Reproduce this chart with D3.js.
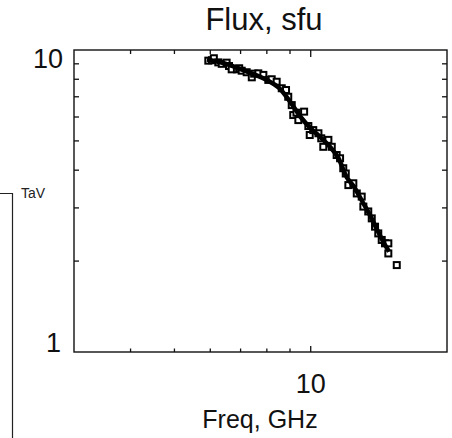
<!DOCTYPE html>
<html>
<head>
    <meta charset="utf-8">
    <title>Flux, sfu</title>
    <script src="https://d3js.org/d3.v7.min.js"></script>
    <style>
        body {
            margin: 0;
            background-color: #ffffff;
            font-family: "Liberation Sans", Arial, sans-serif;
        }
        .frame line, .frame rect {
            stroke: #111;
        }
    </style>
</head>
<body>
    <div id="chart"></div>
    <script>

        // measured points (freq GHz, flux sfu)
        var freq = [5.94, 6.05, 6.11, 6.25, 6.36, 6.52, 6.6, 6.69, 6.87, 6.95, 7.04, 7.22, 7.41, 7.5, 7.66, 7.86,
            8.06, 8.2, 8.41, 8.63, 8.82, 8.92, 9.08, 9.15, 9.3, 9.39, 9.67, 9.88, 9.95, 10.13, 10.4, 10.55, 10.66,
            10.94, 11.13, 11.41, 11.61, 11.8, 11.95, 12.11, 12.42, 12.64, 12.96, 13.07, 13.4, 13.64, 13.87,
            14.1, 14.35, 14.59, 14.84, 14.84, 15.49];
        var flux = [9.22, 9.25, 9.39, 9.1, 9.0, 9.08, 8.85, 8.63, 8.63, 8.7, 8.54, 8.44, 8.12, 8.35, 8.37, 8.27,
            7.96, 8.0, 7.85, 7.47, 7.37, 7.0, 6.57, 6.09, 6.2, 5.86, 6.25, 5.6, 5.23, 5.43, 5.3, 5.1, 4.78,
            5.04, 4.78, 4.49, 4.38, 4.06, 3.9, 3.57, 3.62, 3.35, 3.27, 3.03, 2.92, 2.77, 2.6,
            2.47, 2.35, 2.29, 2.29, 2.12, 1.94];

        // fitted curve
        var fitFreq = [5.9, 6.5, 7, 7.5, 8, 8.5, 9, 9.5, 10, 10.5, 11, 11.5, 12, 12.5, 13, 13.5, 14, 14.5, 14.9];
        var fitFlux = [9.3, 9.0, 8.65, 8.3, 7.95, 7.5, 6.75, 6.0, 5.5, 5.15, 4.8, 4.4, 3.8, 3.5, 3.15, 2.85, 2.55, 2.3, 2.15];

        var xTicks = [4, 5, 6, 7, 8, 9, 10];
        var yTicks = [2, 3, 4, 5, 6, 7, 8, 9];

        var width = 452, height = 438;
        var plotL = 74, plotR = 447, plotT = 50, plotB = 352;

        var svg = d3.select("#chart")
            .append("svg")
            .attr("width", width)
            .attr("height", height);

        var x = d3.scaleLog().domain([3, 20]).range([plotL, plotR]);
        var y = d3.scaleLog().domain([1, 10]).range([plotB, plotT]);

        // title
        svg.append("text")
            .attr("x", 264)
            .attr("y", 30)
            .attr("text-anchor", "middle")
            .style("font-size", "31px")
            .style("fill", "#111")
            .text("Flux, sfu");

        // piece of neighbouring panel
        svg.append("path")
            .attr("d", "M0,193.5H12.5V438")
            .attr("fill", "none")
            .attr("stroke", "#222")
            .attr("stroke-width", 1.2);
        svg.append("text")
            .attr("x", 21)
            .attr("y", 198)
            .style("font-size", "14px")
            .style("fill", "#222")
            .text("TaV");

        var frame = svg.append("g").attr("class", "frame");

        frame.append("rect")
            .attr("x", plotL)
            .attr("y", plotT)
            .attr("width", plotR - plotL)
            .attr("height", plotB - plotT)
            .attr("fill", "none")
            .attr("stroke-width", 1.4);

        // x ticks top and bottom
        frame.selectAll(".xb")
            .data(xTicks)
            .enter()
            .append("line")
            .attr("x1", function (d) { return x(d); })
            .attr("x2", function (d) { return x(d); })
            .attr("y1", plotB)
            .attr("y2", function (d) { return plotB - (d === 10 ? 6 : 3.5); })
            .attr("stroke-width", 1.3);
        frame.selectAll(".xt")
            .data(xTicks)
            .enter()
            .append("line")
            .attr("x1", function (d) { return x(d); })
            .attr("x2", function (d) { return x(d); })
            .attr("y1", plotT)
            .attr("y2", function (d) { return plotT + (d === 10 ? 7 : 4); })
            .attr("stroke-width", 1.3);

        // y ticks left and right
        frame.selectAll(".yl")
            .data(yTicks)
            .enter()
            .append("line")
            .attr("x1", plotL)
            .attr("x2", plotL + 5)
            .attr("y1", function (d) { return y(d); })
            .attr("y2", function (d) { return y(d); })
            .attr("stroke-width", 1.3);
        frame.selectAll(".yr")
            .data(yTicks)
            .enter()
            .append("line")
            .attr("x1", plotR)
            .attr("x2", plotR - 5)
            .attr("y1", function (d) { return y(d); })
            .attr("y2", function (d) { return y(d); })
            .attr("stroke-width", 1.3);

        // tick labels
        svg.append("text")
            .attr("x", 63)
            .attr("y", y(10) + 18)
            .attr("text-anchor", "end")
            .style("font-size", "27px")
            .style("fill", "#111")
            .text("10");
        svg.append("text")
            .attr("x", 61)
            .attr("y", y(1))
            .attr("text-anchor", "end")
            .style("font-size", "27px")
            .style("fill", "#111")
            .text("1");
        svg.append("text")
            .attr("x", x(10))
            .attr("y", 393)
            .attr("text-anchor", "middle")
            .style("font-size", "27px")
            .style("fill", "#111")
            .text("10");

        // axis label
        svg.append("text")
            .attr("x", 260)
            .attr("y", 428)
            .attr("text-anchor", "middle")
            .style("font-size", "25px")
            .style("fill", "#111")
            .text("Freq, GHz");

        // data squares
        var pts = freq.map(function (f, i) { return [f, flux[i]]; });
        svg.selectAll(".pt")
            .data(pts)
            .enter()
            .append("rect")
            .attr("x", function (d) { return x(d[0]) - 3; })
            .attr("y", function (d) { return y(d[1]) - 3; })
            .attr("width", 6)
            .attr("height", 6)
            .attr("fill", "#fff")
            .attr("stroke", "#000")
            .attr("stroke-width", 2);

        // fit line
        var fit = fitFreq.map(function (f, i) { return [f, fitFlux[i]]; });
        svg.append("path")
            .datum(fit)
            .attr("fill", "none")
            .attr("stroke", "#000")
            .attr("stroke-width", 4.5)
            .attr("d", d3.line()
                .x(function (d) { return x(d[0]); })
                .y(function (d) { return y(d[1]); })
                .curve(d3.curveMonotoneX));

    </script>
</body>
</html>
